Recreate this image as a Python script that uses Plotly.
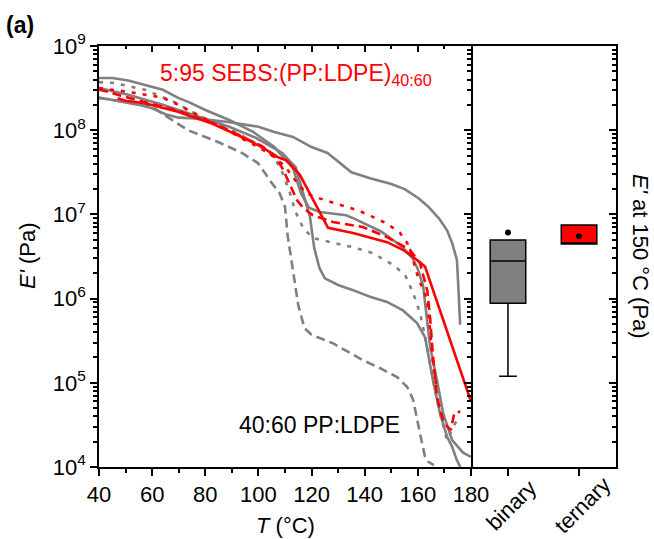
import plotly.graph_objects as go

# ---------------- data ----------------
# gray solid: flat curve, survives to 175 °C
g1_T = [40, 45, 50, 55, 60, 65, 70, 76, 88, 100, 106, 113, 120, 126, 135, 142, 150, 155, 160, 164, 168, 171, 173, 174.7, 175.3, 175.9]
g1_E = [2.45e8, 2.29e8, 2.14e8, 2.0e8, 1.82e8, 1.55e8, 1.41e8, 1.38e8, 1.26e8, 1.10e8, 9.55e7, 8.32e7, 6.31e7, 5.37e7, 3.16e7, 2.69e7, 2.29e7, 2.0e7, 1.58e7, 1.23e7, 8.91e6, 6.46e6, 4.47e6, 2.88e6, 1.26e6, 4.9e5]

# gray solid: top start, higher plateau
g2_T = [40, 45, 51, 57, 64, 70, 74, 80, 89, 98, 106, 113, 116, 119, 123, 133, 136, 146, 154, 158, 160, 162, 163, 164.6, 167.2, 169.5, 172.9, 177, 180]
g2_E = [4.17e8, 4.17e8, 3.89e8, 3.47e8, 3.02e8, 2.40e8, 2.14e8, 1.74e8, 1.32e8, 9.55e7, 6.31e7, 3.55e7, 1.78e7, 1.20e7, 1.07e7, 9.77e6, 8.91e6, 6.31e6, 4.17e6, 3.02e6, 2.24e6, 1.41e6, 7.08e5, 2.69e5, 1.07e5, 4.37e4, 2.09e4, 1.48e4, 1.32e4]

# gray solid: middle start, low plateau
g3_T = [40, 51, 64, 76, 89, 99, 109, 114, 117, 119.4, 121, 123, 125, 130, 135.6, 142, 148.4, 154.4, 159.7, 162.7, 165.7, 168.3, 171, 172.9, 174.7, 176]
g3_E = [3.16e8, 2.63e8, 2.0e8, 1.51e8, 1.10e8, 8.13e7, 5.37e7, 3.63e7, 1.66e7, 9.33e6, 3.98e6, 2.29e6, 1.74e6, 1.45e6, 1.26e6, 1.05e6, 9.12e5, 7.24e5, 5.13e5, 3.47e5, 1.07e5, 4.37e4, 2.29e4, 1.74e4, 1.20e4, 1.0e4]

# gray dashed: early drop
gd_T = [40, 50, 60, 63.7, 73.5, 84.8, 93.8, 99.8, 102.5, 104.4, 108, 110, 111, 113, 115, 117.3, 120, 128, 139.3, 146, 152.2, 156, 158.2, 160.8, 162.7, 164, 166]
gd_E = [2.40e8, 2.19e8, 1.91e8, 1.58e8, 1.0e8, 7.24e7, 5.37e7, 4.07e7, 3.09e7, 2.51e7, 1.78e7, 1.23e7, 5.62e6, 2.24e6, 8.32e5, 4.47e5, 3.72e5, 2.95e5, 1.86e5, 1.48e5, 1.17e5, 8.91e4, 6.31e4, 2.51e4, 1.32e4, 1.15e4, 1.05e4]

# gray dotted
gp_T = [40, 46, 57.3, 68.6, 76.1, 83.6, 91.2, 98.7, 106, 109, 111.9, 113.8, 116.8, 120.5, 127, 135.6, 143, 150.7, 155.2, 158.2, 160.8, 163.5, 165.7, 168.3, 171, 173, 174.7]
gp_E = [3.72e8, 3.63e8, 3.02e8, 2.14e8, 1.58e8, 1.20e8, 9.55e7, 7.08e7, 4.79e7, 3.16e7, 1.78e7, 1.10e7, 6.92e6, 5.25e6, 4.68e6, 4.07e6, 3.47e6, 2.51e6, 1.91e6, 1.17e6, 6.76e5, 2.69e5, 1.07e5, 4.37e4, 2.09e4, 2.82e4, 3.63e4]

# red solid
rs_T = [47, 50, 57.3, 69.7, 82.5, 92.3, 101.3, 104.4, 107.3, 110.6, 114.4, 115.6, 126.2, 135.6, 148.4, 154.4, 159.7, 162.7, 180]
rs_E = [2.40e8, 2.24e8, 2.09e8, 1.66e8, 1.20e8, 8.71e7, 6.31e7, 5.50e7, 4.79e7, 4.37e7, 3.31e7, 2.95e7, 6.92e6, 6.03e6, 4.68e6, 3.80e6, 2.88e6, 2.40e6, 6.0e4]

# red dashed
rd_T = [40, 43, 47, 57.3, 69.7, 82.5, 92.3, 101.3, 106, 109, 112, 114.5, 116.8, 120.5, 128, 139.3, 148.4, 157, 160.8, 163.5, 164.6, 165.7, 167.2, 169.5, 171.1, 172.4, 173.7, 176]
rd_E = [3.02e8, 2.88e8, 2.63e8, 2.14e8, 1.70e8, 1.23e8, 8.91e7, 6.46e7, 5.01e7, 3.55e7, 2.24e7, 1.48e7, 1.20e7, 9.77e6, 8.13e6, 7.08e6, 5.37e6, 3.80e6, 2.63e6, 1.26e6, 6.03e5, 2.04e5, 6.76e4, 3.55e4, 3.02e4, 2.75e4, 4.37e4, 4.57e4]

# red dotted
rp_T = [40, 50, 63.7, 68.6, 76, 83.6, 90, 95, 100, 106, 110, 114, 118, 123, 128, 138, 143, 148.4, 153.3, 156, 158.2, 160, 163.5, 165.7, 167.2]
rp_E = [3.16e8, 2.88e8, 2.45e8, 2.09e8, 1.58e8, 1.20e8, 9.33e7, 7.59e7, 6.31e7, 4.79e7, 3.72e7, 2.51e7, 1.78e7, 1.55e7, 1.38e7, 1.10e7, 9.33e6, 7.76e6, 6.03e6, 4.57e6, 2.88e6, 1.82e6, 9.55e5, 1.74e5, 8.13e4]

# box plot: E' at 150 °C
box_groups = ["binary", "ternary"]
box_q1 = [8.8e5, 4.45e6]
box_median = [2.8e6, 4.45e6]
box_q3 = [4.97e6, 7.5e6]
box_low = [1.2e5, 4.45e6]
box_high = [4.97e6, 7.5e6]
box_mean = [6.1e6, 5.5e6]
box_fill = ["#808080", "#ff0000"]

x_ticks = [40, 60, 80, 100, 120, 140, 160, 180]
x_minor = [50, 70, 90, 110, 130, 150, 170]
y_ticks = [1e4, 1e5, 1e6, 1e7, 1e8, 1e9]
y_ticktext = ["10<sup>4</sup>", "10<sup>5</sup>", "10<sup>6</sup>", "10<sup>7</sup>", "10<sup>8</sup>", "10<sup>9</sup>"]

# ---------------- figure ----------------
GRAY = "#808080"
RED = "#ff0000"
LW = 2.6
DASH = "9px,5px"
DOT = "4px,7px"

fig = go.Figure()
curves = [
    (g1_T, g1_E, GRAY, "solid"),
    (g2_T, g2_E, GRAY, "solid"),
    (g3_T, g3_E, GRAY, "solid"),
    (gd_T, gd_E, GRAY, DASH),
    (gp_T, gp_E, GRAY, DOT),
    (rd_T, rd_E, RED, DASH),
    (rp_T, rp_E, RED, DOT),
    (rs_T, rs_E, RED, "solid"),
]
for T, E, c, d in curves:
    fig.add_trace(go.Scatter(x=T, y=E, mode="lines", line=dict(color=c, width=LW, dash=d),
                             xaxis="x", yaxis="y", showlegend=False, hoverinfo="skip"))

# invisible traces so the inner-tick frame axes get drawn
fig.add_trace(go.Scatter(x=[None], y=[None], mode="lines", xaxis="x3", yaxis="y", showlegend=False))
fig.add_trace(go.Scatter(x=[None], y=[None], mode="lines", xaxis="x", yaxis="y3", showlegend=False))

for i, g in enumerate(box_groups):
    fig.add_trace(go.Box(x=[g], q1=[box_q1[i]], median=[box_median[i]], q3=[box_q3[i]],
                         lowerfence=[box_low[i]], upperfence=[box_high[i]],
                         fillcolor=box_fill[i], line=dict(color="black", width=1.5),
                         width=0.5, whiskerwidth=0.5, boxpoints=False,
                         xaxis="x2", yaxis="y2", showlegend=False))
fig.add_trace(go.Scatter(x=box_groups, y=box_mean, mode="markers",
                         marker=dict(color="black", size=6), xaxis="x2", yaxis="y2",
                         showlegend=False))

minor_y = [m * 10 ** e for e in range(4, 9) for m in range(2, 10)]
FONT = "Arial, Liberation Sans, sans-serif"
split = (471 - 99) / (616 - 99)

axis_common = dict(showline=True, linecolor="black", linewidth=1.5, showgrid=False, zeroline=False,
                   tickcolor="black", tickwidth=1.5, automargin=False)

fig.update_layout(
    width=654, height=539,
    margin=dict(l=99, r=38, t=46, b=72, autoexpand=False),
    paper_bgcolor="white", plot_bgcolor="rgba(0,0,0,0)",
    font=dict(family=FONT, size=22, color="black"),
    showlegend=False,
    xaxis=dict(domain=[0, split], range=[40, 180], anchor="y", tickvals=x_ticks,
               ticks="outside", ticklen=7,
               minor=dict(tickvals=x_minor, ticks="outside", ticklen=4),
               **axis_common),
    xaxis3=dict(domain=[0, split], side="top", anchor="y", range=[40, 180], tickvals=x_ticks,
                ticks="inside", ticklen=6, showticklabels=False,
                minor=dict(tickvals=x_minor, ticks="inside", ticklen=3),
                **axis_common),
    yaxis=dict(type="log", range=[4, 9], anchor="x", tickvals=y_ticks, ticktext=y_ticktext,
               ticks="outside", ticklen=7,
               minor=dict(tickvals=minor_y, ticks="outside", ticklen=4),
               **axis_common),
    yaxis3=dict(type="log", range=[4, 9], domain=[0, 1], side="right", anchor="x",
                tickvals=y_ticks, showticklabels=False, ticks="inside", ticklen=7,
                minor=dict(tickvals=minor_y, ticks="inside", ticklen=4),
                **axis_common),
    xaxis2=dict(domain=[split, 1], anchor="y2", type="category", range=[-0.52, 1.52],
                categoryorder="array", categoryarray=box_groups,
                ticks="outside", ticklen=7, showticklabels=False, mirror=True,
                **axis_common),
    yaxis2=dict(type="log", range=[4, 9], anchor="x2", side="right", tickvals=y_ticks,
                showticklabels=False, ticks="inside", ticklen=7,
                minor=dict(tickvals=minor_y, ticks="inside", ticklen=4),
                **axis_common),
)

def px_x(px):
    return (px - 99) / 517

def px_y(py):
    return (467 - py) / 421

# rotated category labels, centred under their ticks
for i, g in enumerate(box_groups):
    fig.add_annotation(text=g, xref="x2", yref="paper", x=i, y=px_y(505), xshift=3,
                       xanchor="center", yanchor="middle", textangle=-45, showarrow=False,
                       font=dict(size=22))

fig.add_annotation(text="<b>(a)</b>", xref="paper", yref="paper", x=px_x(4), y=px_y(25),
                   xanchor="left", yanchor="middle", showarrow=False, font=dict(size=23))
fig.add_annotation(text="5:95 SEBS:(PP:LDPE)<sub>40:60</sub>", xref="x", yref="y", x=62.2, y=8.656,
                   xanchor="left", yanchor="middle", showarrow=False, font=dict(size=23, color=RED))
fig.add_annotation(text="40:60 PP:LDPE", xref="x", yref="y", x=91.9, y=4.50,
                   xanchor="left", yanchor="middle", showarrow=False, font=dict(size=23, color="black"))
fig.add_annotation(text="<i>T</i> (°C)", xref="paper", yref="paper", x=px_x(285), y=px_y(525),
                   xanchor="center", yanchor="middle", showarrow=False, font=dict(size=22))
fig.add_annotation(text="<i>E'</i> (Pa)", xref="paper", yref="paper", x=px_x(27), y=px_y(256),
                   xanchor="center", yanchor="middle", showarrow=False, textangle=-90, font=dict(size=22))
fig.add_annotation(text="<i>E'</i> at 150 °C (Pa)", xref="paper", yref="paper", x=px_x(641), y=px_y(256),
                   xanchor="center", yanchor="middle", showarrow=False, textangle=90, font=dict(size=22))

fig.write_html("out.html", config={"displayModeBar": False},
               post_script="document.body.style.margin='0';document.body.style.overflow='hidden';")
